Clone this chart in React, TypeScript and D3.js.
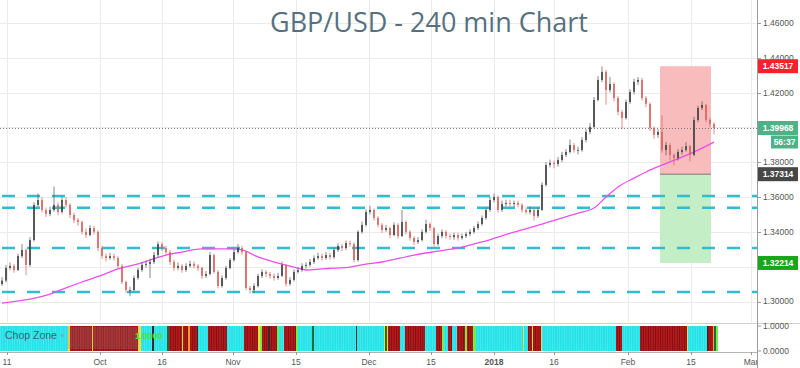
import { useEffect, useRef } from 'react';
import * as d3 from 'd3';

// 4-hour candles, resampled: one candle per slot
const firstOpen = 1.31;
const closes = [
  1.3120, 1.3193, 1.3204, 1.3181, 1.3261, 1.3296, 1.3210, 1.3353, 1.3555, 1.3583,
  1.3526, 1.3503, 1.3526, 1.3555, 1.3514, 1.3583, 1.3555, 1.3497, 1.3468, 1.3457,
  1.3400, 1.3382, 1.3422, 1.3400, 1.3307, 1.3261, 1.3250, 1.3261, 1.3250, 1.3204,
  1.3112, 1.3066, 1.3066, 1.3135, 1.3181, 1.3210, 1.3216, 1.3227, 1.3267, 1.3330,
  1.3307, 1.3284, 1.3227, 1.3193, 1.3204, 1.3181, 1.3204, 1.3216, 1.3204, 1.3193,
  1.3147, 1.3158, 1.3267, 1.3170, 1.3089, 1.3135, 1.3193, 1.3238, 1.3284, 1.3307,
  1.3284, 1.3078, 1.3066, 1.3089, 1.3147, 1.3170, 1.3158, 1.3147, 1.3135, 1.3147,
  1.3210, 1.3101, 1.3124, 1.3170, 1.3181, 1.3204, 1.3210, 1.3227, 1.3250, 1.3261,
  1.3250, 1.3267, 1.3255, 1.3296, 1.3319, 1.3307, 1.3336, 1.3330, 1.3238, 1.3400,
  1.3440, 1.3514, 1.3526, 1.3480, 1.3440, 1.3411, 1.3422, 1.3382, 1.3440, 1.3376,
  1.3457, 1.3400, 1.3365, 1.3342, 1.3353, 1.3400, 1.3445, 1.3422, 1.3330, 1.3376,
  1.3400, 1.3376, 1.3370, 1.3382, 1.3365, 1.3376, 1.3388, 1.3400, 1.3422, 1.3445,
  1.3480, 1.3526, 1.3583, 1.3600, 1.3526, 1.3560, 1.3566, 1.3560, 1.3566, 1.3555,
  1.3526, 1.3514, 1.3526, 1.3491, 1.3526, 1.3670, 1.3784, 1.3796, 1.3790, 1.3813,
  1.3842, 1.3859, 1.3899, 1.3870, 1.3870, 1.3928, 1.3974, 1.4003, 1.4158, 1.4273,
  1.4319, 1.4215, 1.4250, 1.4169, 1.4089, 1.4054, 1.4146, 1.4204, 1.4262, 1.4273,
  1.4169, 1.4135, 1.3997, 1.3957, 1.3974, 1.3870, 1.3899, 1.3842, 1.3824, 1.3859,
  1.3870, 1.3893, 1.3842, 1.4043, 1.4112, 1.4129, 1.4043, 1.4020, 1.3997,
];
const highs = [
  1.3140, 1.3210, 1.3225, 1.3215, 1.3275, 1.3330, 1.3305, 1.3370, 1.3570, 1.3620,
  1.3600, 1.3540, 1.3545, 1.3660, 1.3570, 1.3600, 1.3600, 1.3565, 1.3510, 1.3480,
  1.3465, 1.3420, 1.3440, 1.3435, 1.3410, 1.3320, 1.3275, 1.3280, 1.3275, 1.3260,
  1.3215, 1.3120, 1.3085, 1.3150, 1.3195, 1.3225, 1.3235, 1.3245, 1.3285, 1.3345,
  1.3340, 1.3320, 1.3295, 1.3240, 1.3225, 1.3215, 1.3220, 1.3235, 1.3230, 1.3215,
  1.3200, 1.3175, 1.3285, 1.3275, 1.3180, 1.3150, 1.3205, 1.3250, 1.3300, 1.3330,
  1.3320, 1.3290, 1.3090, 1.3105, 1.3160, 1.3185, 1.3180, 1.3170, 1.3160, 1.3165,
  1.3230, 1.3215, 1.3140, 1.3185, 1.3195, 1.3220, 1.3225, 1.3245, 1.3265, 1.3280,
  1.3275, 1.3285, 1.3280, 1.3310, 1.3335, 1.3330, 1.3350, 1.3350, 1.3340, 1.3410,
  1.3460, 1.3530, 1.3550, 1.3535, 1.3490, 1.3450, 1.3440, 1.3430, 1.3455, 1.3450,
  1.3525, 1.3465, 1.3410, 1.3375, 1.3370, 1.3415, 1.3470, 1.3455, 1.3430, 1.3390,
  1.3415, 1.3410, 1.3390, 1.3395, 1.3395, 1.3390, 1.3400, 1.3415, 1.3435, 1.3460,
  1.3495, 1.3540, 1.3600, 1.3620, 1.3610, 1.3580, 1.3585, 1.3585, 1.3580, 1.3580,
  1.3565, 1.3540, 1.3545, 1.3535, 1.3540, 1.3685, 1.3800, 1.3815, 1.3810, 1.3830,
  1.3860, 1.3875, 1.3930, 1.3910, 1.3890, 1.3945, 1.3990, 1.4025, 1.4175, 1.4295,
  1.4350, 1.4330, 1.4290, 1.4260, 1.4180, 1.4100, 1.4160, 1.4220, 1.4280, 1.4290,
  1.4285, 1.4180, 1.4145, 1.4005, 1.3990, 1.4070, 1.3915, 1.3910, 1.3850, 1.3875,
  1.3890, 1.3915, 1.3900, 1.4060, 1.4125, 1.4150, 1.4135, 1.4055, 1.4030,
];
const lows = [
  1.3090, 1.3110, 1.3180, 1.3165, 1.3175, 1.3250, 1.3150, 1.3200, 1.3345, 1.3545,
  1.3510, 1.3485, 1.3490, 1.3515, 1.3495, 1.3505, 1.3540, 1.3480, 1.3450, 1.3435,
  1.3385, 1.3365, 1.3375, 1.3385, 1.3290, 1.3245, 1.3230, 1.3240, 1.3235, 1.3190,
  1.3100, 1.3050, 1.3030, 1.3060, 1.3125, 1.3170, 1.3195, 1.3135, 1.3215, 1.3255,
  1.3290, 1.3270, 1.3210, 1.3175, 1.3180, 1.3165, 1.3170, 1.3195, 1.3190, 1.3175,
  1.3130, 1.3135, 1.3150, 1.3160, 1.3075, 1.3080, 1.3125, 1.3185, 1.3230, 1.3275,
  1.3270, 1.3065, 1.3045, 1.3050, 1.3080, 1.3135, 1.3140, 1.3130, 1.3120, 1.3125,
  1.3140, 1.3085, 1.3090, 1.3115, 1.3160, 1.3170, 1.3190, 1.3200, 1.3215, 1.3240,
  1.3235, 1.3240, 1.3240, 1.3245, 1.3285, 1.3290, 1.3295, 1.3315, 1.3225, 1.3230,
  1.3390, 1.3430, 1.3500, 1.3465, 1.3425, 1.3395, 1.3400, 1.3365, 1.3375, 1.3360,
  1.3370, 1.3385, 1.3350, 1.3325, 1.3330, 1.3345, 1.3390, 1.3405, 1.3315, 1.3320,
  1.3365, 1.3360, 1.3355, 1.3355, 1.3350, 1.3355, 1.3365, 1.3375, 1.3390, 1.3410,
  1.3435, 1.3470, 1.3515, 1.3570, 1.3510, 1.3515, 1.3545, 1.3545, 1.3545, 1.3540,
  1.3510, 1.3500, 1.3500, 1.3465, 1.3480, 1.3520, 1.3660, 1.3770, 1.3765, 1.3775,
  1.3800, 1.3830, 1.3850, 1.3855, 1.3845, 1.3860, 1.3915, 1.3960, 1.3995, 1.4150,
  1.4260, 1.4130, 1.4200, 1.4150, 1.4070, 1.3990, 1.4045, 1.4135, 1.4190, 1.4245,
  1.4155, 1.4115, 1.3980, 1.3935, 1.3940, 1.3855, 1.3840, 1.3810, 1.3780, 1.3810,
  1.3845, 1.3860, 1.3805, 1.3835, 1.4030, 1.4100, 1.4030, 1.4000, 1.3960,
];

// 200-period moving average, read at selected bars
const maIndex = [0, 12, 16, 20, 25, 29, 33, 37, 41, 45, 50, 54, 58, 60, 64, 69, 73, 76, 80, 83, 87, 91, 95, 103, 111, 115, 120, 128, 136, 144, 148, 151, 154, 158, 161, 165, 170, 174, 178];
const maValues = [1.2991, 1.3043, 1.3078, 1.3112, 1.3152, 1.3187, 1.3210, 1.3238, 1.3267, 1.3284, 1.3302, 1.3302, 1.3302, 1.3296, 1.3256, 1.3221, 1.3198, 1.3181, 1.3187, 1.3192, 1.3198, 1.3215, 1.3227, 1.3267, 1.3296, 1.3313, 1.3342, 1.3399, 1.3451, 1.3508, 1.3537, 1.3600, 1.3658, 1.3709, 1.3744, 1.3784, 1.3830, 1.3870, 1.3916];

// horizontal support / resistance levels
const levels = [1.3606, 1.3539, 1.3307, 1.3055];

const priceTicks = [1.30, 1.32, 1.34, 1.36, 1.38, 1.40, 1.42, 1.44, 1.46];
const timeTickIndex = [1.25, 24.5, 40, 57.75, 73.5, 91.75, 107.25, 123, 138, 156.5, 172.25, 187.25];
const timeTickLabels = ['11', 'Oct', '16', 'Nov', '15', 'Dec', '15', '2018', '16', 'Feb', '15', 'Mar'];

// chop zone colour runs (start bar, colour key)
const chopStarts = [-0.5, 16.5, 17, 22.5, 22.75, 34, 34.75, 37.5, 38, 41.25, 41.75, 45, 45.25, 46.5, 47, 48.75, 49, 51.5, 56.25, 60.5, 64, 64.5, 65, 66.5, 67, 68.75, 69.25, 70.5, 73.5, 74, 77.5, 78, 88.5, 88.75, 95.5, 95.75, 96.25, 96.5, 99.5, 100.75, 105.75, 108.5, 110, 110.5, 111.5, 112.5, 113.75, 115.75, 116.25, 117.75, 118.5, 130.25, 130.5, 131.5, 132.5, 132.75, 134.75, 135, 153.5, 155, 159.5, 171.25, 171.5, 176.25, 176.5, 177.75, 178, 178.5];
const chopColors = ['C', 'Y', 'R', 'Y', 'R', 'Y', 'C', 'K', 'C', 'D', 'R', 'Y', 'R', 'O', 'R', 'K', 'C', 'R', 'C', 'R', 'Y', 'G', 'R', 'K', 'R', 'G', 'C', 'R', 'G', 'C', 'D', 'C', 'K', 'C', 'Y', 'D', 'Y', 'R', 'C', 'R', 'C', 'R', 'G', 'C', 'R', 'C', 'R', 'G', 'R', 'G', 'C', 'Y', 'C', 'R', 'Y', 'R', 'Y', 'C', 'R', 'C', 'R', 'Y', 'C', 'K', 'R', 'O', 'D', 'G'];
const chopEnd = 179;

// long/short position tool
const stopPrice = 1.43517;
const entryPrice = 1.37314;
const targetPrice = 1.32214;
const boxFrom = 164.5;
const boxTo = 177.25;
const lastPrice = 1.39968;
const countdown = '56:37';

export default function App() {
  const svgRef = useRef<SVGSVGElement>(null);

  useEffect(() => {
    if (!svgRef.current) return;
    const width = 800;
    const height = 368;
    const axisX = 757;
    const mainBottom = 322;

    d3.select(svgRef.current).selectAll('*').remove();
    const svg = d3.select(svgRef.current).attr('width', width).attr('height', height);

    const x = d3.scaleLinear().domain([0, 189]).range([2, 758]);
    const y = d3.scaleLinear().domain([1.30, 1.46]).range([301.5, 23]);
    const yChop = d3.scaleLinear().domain([0, 1]).range([351, 326]);
    const fmt = d3.format('.5f');
    const axisFont = "'Liberation Sans', Arial, sans-serif";

    svg.append('rect').attr('width', width).attr('height', height).attr('fill', '#fff');

    const defs = svg.append('defs');
    defs.append('clipPath').attr('id', 'main-clip')
      .append('rect').attr('x', 0).attr('y', 0).attr('width', axisX).attr('height', mainBottom);
    defs.append('clipPath').attr('id', 'time-clip')
      .append('rect').attr('x', 0).attr('y', 350).attr('width', axisX).attr('height', 18);

    const redPat = defs.append('pattern').attr('id', 'chop-red').attr('patternUnits', 'userSpaceOnUse')
      .attr('width', 2.4).attr('height', 10);
    redPat.append('rect').attr('width', 2.4).attr('height', 10).attr('fill', '#b3181b');
    redPat.append('rect').attr('width', 0.6).attr('height', 10).attr('fill', '#6e0d0d');
    const cyanPat = defs.append('pattern').attr('id', 'chop-cyan').attr('patternUnits', 'userSpaceOnUse')
      .attr('width', 2.4).attr('height', 10);
    cyanPat.append('rect').attr('width', 2.4).attr('height', 10).attr('fill', '#25e2e8');
    cyanPat.append('rect').attr('width', 0.5).attr('height', 10).attr('fill', '#5ff0f2');

    const chopFill: Record<string, string> = {
      C: 'url(#chop-cyan)', R: 'url(#chop-red)', Y: '#f4dc3c', O: '#ff9a2a',
      G: '#6ef04a', D: '#1f6b35', K: '#3a2a2a',
    };

    // grid
    const grid = svg.append('g').attr('stroke', '#ebebeb').attr('stroke-width', 1);
    grid.selectAll('line.h').data(priceTicks).enter().append('line')
      .attr('x1', 0).attr('x2', axisX)
      .attr('y1', (d) => Math.round(y(d)) + 0.5).attr('y2', (d) => Math.round(y(d)) + 0.5);
    grid.selectAll('line.v').data(timeTickIndex).enter().append('line')
      .attr('x1', (d) => Math.round(x(d)) + 0.5).attr('x2', (d) => Math.round(x(d)) + 0.5)
      .attr('y1', 0).attr('y2', mainBottom);

    const main = svg.append('g').attr('clip-path', 'url(#main-clip)');

    // position tool boxes
    main.append('rect')
      .attr('x', x(boxFrom)).attr('width', x(boxTo) - x(boxFrom))
      .attr('y', y(stopPrice)).attr('height', y(entryPrice) - y(stopPrice))
      .attr('fill', '#f9bcbc');
    main.append('rect')
      .attr('x', x(boxFrom)).attr('width', x(boxTo) - x(boxFrom))
      .attr('y', y(entryPrice)).attr('height', y(targetPrice) - y(entryPrice))
      .attr('fill', '#c3eec6');
    main.append('line')
      .attr('x1', x(boxFrom)).attr('x2', x(boxTo))
      .attr('y1', y(entryPrice)).attr('y2', y(entryPrice))
      .attr('stroke', '#777').attr('stroke-width', 1);

    // dashed levels
    main.selectAll('line.level').data(levels).enter().append('line')
      .attr('x1', 2).attr('x2', axisX)
      .attr('y1', (d) => y(d)).attr('y2', (d) => y(d))
      .attr('stroke', '#33bccb').attr('stroke-width', 2.6)
      .attr('stroke-dasharray', '13,12');

    // last price dotted line
    main.append('line')
      .attr('x1', 0).attr('x2', axisX)
      .attr('y1', Math.round(y(lastPrice)) + 0.5).attr('y2', Math.round(y(lastPrice)) + 0.5)
      .attr('stroke', '#7a7a7a').attr('stroke-width', 1).attr('stroke-dasharray', '1,2');

    // moving average
    const maPts = maIndex.map((d, i) => [x(d), y(maValues[i])] as [number, number]);
    main.append('path')
      .attr('d', d3.line().curve(d3.curveMonotoneX)(maPts))
      .attr('fill', 'none').attr('stroke', '#ec4fe8').attr('stroke-width', 1.3);

    // candles
    const bars = closes.map((c, i) => ({
      i, o: i ? closes[i - 1] : firstOpen, c, h: highs[i], l: lows[i],
    }));
    const candle = main.selectAll('g.candle').data(bars).enter().append('g');
    candle.append('line')
      .attr('x1', (d) => x(d.i)).attr('x2', (d) => x(d.i))
      .attr('y1', (d) => y(d.h)).attr('y2', (d) => y(d.l))
      .attr('stroke', (d) => (d.c >= d.o ? '#555' : '#d0605b')).attr('stroke-width', 0.7);
    candle.append('rect')
      .attr('x', (d) => x(d.i) - 0.8).attr('width', 1.6)
      .attr('y', (d) => y(Math.max(d.o, d.c)))
      .attr('height', (d) => Math.max(0.8, Math.abs(y(d.o) - y(d.c))))
      .attr('fill', (d) => (d.c >= d.o ? '#3f3f3f' : '#d9635e'));

    // title
    svg.append('text')
      .attr('x', 429).attr('y', 32).attr('text-anchor', 'middle')
      .attr('font-family', "'Open Sans', sans-serif").attr('font-size', 27)
      .attr('fill', '#56707f').text('GBP/USD - 240 min Chart');

    // pane separator
    svg.append('line').attr('x1', 0).attr('x2', width).attr('y1', 323.5).attr('y2', 323.5)
      .attr('stroke', '#cfcfcf');

    // chop zone
    const runs = chopStarts.map((s, i) => ({
      s, e: i < chopStarts.length - 1 ? chopStarts[i + 1] : chopEnd, k: chopColors[i],
    }));
    svg.append('g').selectAll('rect').data(runs).enter().append('rect')
      .attr('x', (d) => x(d.s)).attr('width', (d) => x(d.e) - x(d.s))
      .attr('y', yChop(1)).attr('height', yChop(0) - yChop(1))
      .attr('fill', (d) => chopFill[d.k]);
    svg.append('rect').attr('x', 67).attr('y', 327).attr('width', 72).attr('height', 22)
      .attr('fill', 'rgba(150,150,150,0.22)');
    svg.append('text').attr('x', 5).attr('y', 339).attr('font-family', axisFont)
      .attr('font-size', 10.5).attr('fill', '#3a6470').text('Chop Zone');
    svg.append('text').attr('x', 61).attr('y', 338).attr('font-family', axisFont)
      .attr('font-size', 7).attr('fill', '#7fa9b0').text('▾');
    svg.append('text').attr('x', 135).attr('y', 339).attr('font-family', axisFont)
      .attr('font-size', 9).attr('font-weight', 'bold').attr('fill', '#55e02c').text('1.0000');

    // time axis
    svg.append('line').attr('x1', 0).attr('x2', axisX).attr('y1', 352.5).attr('y2', 352.5)
      .attr('stroke', '#b5b5b5');
    const tAxis = svg.append('g').attr('clip-path', 'url(#time-clip)');
    tAxis.selectAll('line').data(timeTickIndex).enter().append('line')
      .attr('x1', (d) => Math.round(x(d)) + 0.5).attr('x2', (d) => Math.round(x(d)) + 0.5)
      .attr('y1', 352).attr('y2', 355).attr('stroke', '#999');
    tAxis.selectAll('text').data(timeTickIndex).enter().append('text')
      .attr('x', (d) => x(d)).attr('y', 365).attr('text-anchor', 'middle')
      .attr('font-family', axisFont).attr('font-size', 8.5)
      .attr('font-weight', (_, i) => (timeTickLabels[i] === '2018' ? 'bold' : 'normal'))
      .attr('fill', '#555').text((_, i) => timeTickLabels[i]);

    // price badges (ticks right under a badge are hidden, as on the chart)
    const badges = [
      { p: stopPrice, fill: '#f5222d', text: fmt(stopPrice) },
      { p: lastPrice, fill: '#4fb286', text: fmt(lastPrice) },
      { p: entryPrice, fill: '#474747', text: fmt(entryPrice) },
      { p: targetPrice, fill: '#19a51c', text: fmt(targetPrice) },
    ];
    const shownTicks = priceTicks.filter((t) => badges.every((b) => Math.abs(y(b.p) - y(t)) > 7));

    // price axis
    svg.append('line').attr('x1', axisX + 0.5).attr('x2', axisX + 0.5).attr('y1', 0).attr('y2', height)
      .attr('stroke', '#9a9a9a');
    const pAxis = svg.append('g');
    pAxis.selectAll('line').data(shownTicks).enter().append('line')
      .attr('x1', axisX).attr('x2', axisX + 4)
      .attr('y1', (d) => Math.round(y(d)) + 0.5).attr('y2', (d) => Math.round(y(d)) + 0.5)
      .attr('stroke', '#9a9a9a');
    pAxis.selectAll('text').data(shownTicks).enter().append('text')
      .attr('x', axisX + 6).attr('y', (d) => y(d)).attr('dy', '0.35em')
      .attr('font-family', axisFont).attr('font-size', 8.5).attr('fill', '#555')
      .text((d) => fmt(d));
    [1, 0].forEach((v) => {
      svg.append('line').attr('x1', axisX).attr('x2', axisX + 4)
        .attr('y1', yChop(v)).attr('y2', yChop(v)).attr('stroke', '#9a9a9a');
      svg.append('text').attr('x', axisX + 6).attr('y', yChop(v)).attr('dy', '0.35em')
        .attr('font-family', axisFont).attr('font-size', 8.5).attr('fill', '#555')
        .text(d3.format('.4f')(v));
    });

    badges.forEach((b) => {
      const cy = y(b.p);
      svg.append('rect').attr('x', axisX + 1).attr('y', cy - 7).attr('width', 40).attr('height', 14)
        .attr('fill', b.fill);
      svg.append('text').attr('x', axisX + 21).attr('y', cy).attr('dy', '0.35em')
        .attr('text-anchor', 'middle').attr('font-family', axisFont).attr('font-size', 8.5)
        .attr('font-weight', 'bold').attr('fill', '#fff').text(b.text);
    });
    const cdY = y(lastPrice) + 14;
    svg.append('rect').attr('x', axisX + 14).attr('y', cdY - 6.5).attr('width', 27).attr('height', 13)
      .attr('fill', '#4fb286');
    svg.append('text').attr('x', axisX + 27.5).attr('y', cdY).attr('dy', '0.35em')
      .attr('text-anchor', 'middle').attr('font-family', axisFont).attr('font-size', 8.5)
      .attr('font-weight', 'bold').attr('fill', '#fff').text(countdown);
  }, []);

  return (
    <svg ref={svgRef} style={{ position: 'absolute', left: 0, top: 0, display: 'block' }} />
  );
}
